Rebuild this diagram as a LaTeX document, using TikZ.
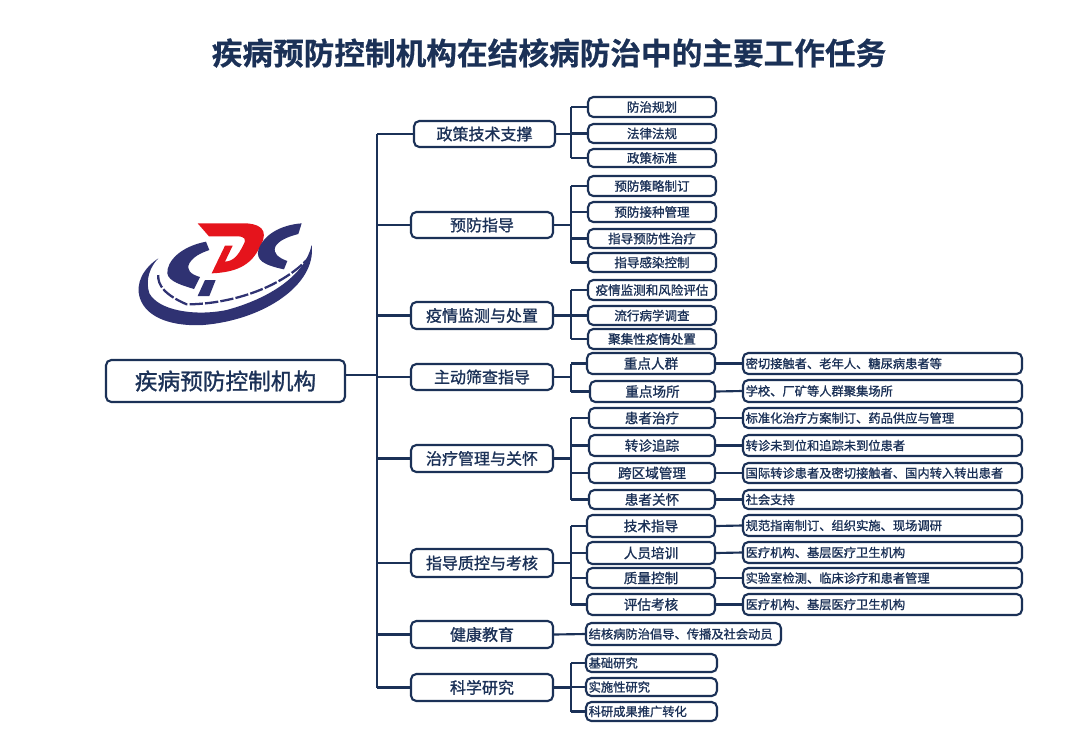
\documentclass[tikz,border=0pt]{standalone}
\usepackage{fontspec}
\setmainfont[RawFeature={embolden=1.2}]{Noto Sans CJK SC}
\newfontfamily\titlefont[RawFeature={embolden=0.6}]{Noto Sans CJK SC Bold}
\definecolor{navy}{HTML}{1B3157}
\definecolor{logob}{HTML}{2F3272}
\definecolor{logor}{HTML}{E5141C}
\tikzset{
  box/.style={draw=navy,line width=1.6pt,rounded corners=4pt,text=navy,inner xsep=2pt,inner ysep=0pt,align=center},
  rootbox/.style={box,font=\fontsize{17pt}{19pt}\selectfont},
  mainbox/.style={box,font=\fontsize{12pt}{14pt}\selectfont},
  subbox/.style={box,font=\fontsize{9.4pt}{11pt}\selectfont},
  midbox/.style={box,font=\fontsize{10.2pt}{12pt}\selectfont},
  detailbox/.style={box,font=\fontsize{9.2pt}{11pt}\selectfont,text width=\bw-4pt,align=left},
  link/.style={draw=navy,line width=1.6pt},
  title/.style={text=navy,font=\titlefont\fontsize{23pt}{26pt}\selectfont}
}
\newcommand{\bx}[7][subbox]{%
  \pgfmathsetlengthmacro{\bw}{(#5-#3)*0.75pt}%
  \pgfmathsetlengthmacro{\bh}{(#6-#4)*0.75pt}%
  \node[#1,minimum width=\bw,minimum height=\bh] (#2) at ({(#3+#5)/2},{(#4+#6)/2}) {#7};}
\begin{document}
\begin{tikzpicture}[x=0.75pt,y=-0.75pt]
\useasboundingbox (0,0) rectangle (1080,747);
\fill[white] (0,0) rectangle (1080,747);
\node[title] (ttl) at (549,53) {疾病预防控制机构在结核病防治中的主要工作任务};
% logo
\begin{scope}[shift={(130,215)},x=0.25pt,y=-0.25pt]
\fill[logob] (85,130) .. controls (40,160) and (15,205) .. (30,250)
  .. controls (50,310) and (130,335) .. (220,330)
  .. controls (400,315) and (560,210) .. (545,90)
  .. controls (525,180) and (420,250) .. (290,285)
  .. controls (190,305) and (85,285) .. (58,235)
  .. controls (45,195) and (60,155) .. (85,130) -- cycle;
\fill[logob] (228,80) .. controls (150,95) and (110,140) .. (112,175)
  .. controls (115,200) and (160,212) .. (192,222) -- (210,186)
  .. controls (182,178) and (168,165) .. (178,145)
  .. controls (190,125) and (210,115) .. (238,105) -- cycle;
\fill[logob] (225,195) -- (257,195) -- (238,243) -- (203,243) -- cycle;
\fill[logor] (203,25) -- (350,25)
  .. controls (410,30) and (412,60) .. (385,105)
  .. controls (360,150) and (320,172) .. (245,175) -- (285,92) -- (308,92) -- (285,140)
  .. controls (312,138) and (325,120) .. (340,90)
  .. controls (350,72) and (345,64) .. (320,64) -- (237,64) -- cycle;
\fill[logob] (515,25) .. controls (450,30) and (400,60) .. (385,105)
  .. controls (378,135) and (400,150) .. (462,163) -- (472,138)
  .. controls (445,128) and (428,115) .. (436,95)
  .. controls (445,78) and (470,66) .. (505,57) -- cycle;
\draw[logob,line width=1.7pt,dash pattern=on 10pt off 1.6pt] (85,180)
  .. controls (82,210) and (105,240) .. (170,268)
  .. controls (290,268) and (450,225) .. (540,125);
\end{scope}
% root
\bx[rootbox]{root}{106}{360}{345}{402}{疾病预防控制机构}
% level 1
\bx[mainbox]{ma}{414}{121}{555}{147}{政策技术支撑}
\bx[mainbox]{mb}{411}{212}{553}{238}{预防指导}
\bx[mainbox]{mc}{411}{302}{553}{329}{疫情监测与处置}
\bx[mainbox]{md}{411}{364}{553}{390}{主动筛查指导}
\bx[mainbox]{me}{411}{445}{553}{472}{治疗管理与关怀}
\bx[mainbox]{mf}{411}{549}{553}{577}{指导质控与考核}
\bx[mainbox]{mg}{411}{621}{553}{648}{健康教育}
\bx[mainbox]{mh}{411}{674}{553}{701}{科学研究}
% level 2
\bx{a1}{588}{97}{716}{117}{防治规划}
\bx{a2}{588}{124}{716}{143}{法律法规}
\bx{a3}{588}{149}{716}{167}{政策标准}
\bx{b1}{588}{176}{716}{196}{预防策略制订}
\bx{b2}{588}{202}{716}{222}{预防接种管理}
\bx{b3}{588}{229}{716}{248}{指导预防性治疗}
\bx{b4}{588}{253}{716}{272}{指导感染控制}
\bx{c1}{588}{280}{716}{300}{疫情监测和风险评估}
\bx{c2}{588}{306}{716}{325}{流行病学调查}
\bx{c3}{588}{329}{716}{349}{聚集性疫情处置}
\bx[midbox]{d1}{587}{353}{715}{374}{重点人群}
\bx[midbox]{d2}{590}{381}{715}{402}{重点场所}
\bx[midbox]{e1}{589}{408}{715}{428}{患者治疗}
\bx[midbox]{e2}{589}{435}{715}{456}{转诊追踪}
\bx[midbox]{e3}{589}{463}{715}{483}{跨区域管理}
\bx[midbox]{e4}{589}{490}{715}{509}{患者关怀}
\bx[midbox]{f1}{587}{515}{715}{537}{技术指导}
\bx[midbox]{f2}{587}{542}{715}{564}{人员培训}
\bx[midbox]{f3}{587}{568}{715}{588}{质量控制}
\bx[midbox]{f4}{587}{594}{715}{615}{评估考核}
\bx[detailbox]{g1}{586}{623}{781}{645}{结核病防治倡导、传播及社会动员}
\bx[detailbox]{h1}{586}{654}{717}{672}{基础研究}
\bx[detailbox]{h2}{586}{678}{717}{696}{实施性研究}
\bx[detailbox]{h3}{586}{702}{717}{721}{科研成果推广转化}
% level 3
\bx[detailbox]{d1x}{743}{353}{1022}{374}{密切接触者、老年人、糖尿病患者等}
\bx[detailbox]{d2x}{743}{380}{1022}{402}{学校、厂矿等人群聚集场所}
\bx[detailbox]{e1x}{743}{408}{1022}{428}{标准化治疗方案制订、药品供应与管理}
\bx[detailbox]{e2x}{743}{435}{1022}{456}{转诊未到位和追踪未到位患者}
\bx[detailbox]{e3x}{743}{463}{1022}{483}{国际转诊患者及密切接触者、国内转入转出患者}
\bx[detailbox]{e4x}{743}{490}{1022}{509}{社会支持}
\bx[detailbox]{f1x}{743}{515}{1022}{536}{规范指南制订、组织实施、现场调研}
\bx[detailbox]{f2x}{743}{542}{1022}{563}{医疗机构、基层医疗卫生机构}
\bx[detailbox]{f3x}{743}{568}{1022}{588}{实验室检测、临床诊疗和患者管理}
\bx[detailbox]{f4x}{743}{594}{1022}{615}{医疗机构、基层医疗卫生机构}
% connectors
\coordinate (tk) at (377,134);
\coordinate (sb) at (571,134);
\draw[link] (ma.west -| tk) -- (mh.west -| tk);
\draw[link] ([yshift=4.5pt]root.east) -- ([yshift=4.5pt]root.east -| tk);
\foreach \m in {ma,mb,mc,md,me,mf,mg,mh}{\draw[link] (\m.west) -- (\m.west -| tk);}
\foreach \p/\first/\last in {ma/a1/a3,mb/b1/b4,mc/c1/c3,md/d1/d2,me/e1/e4,mf/f1/f4,mh/h1/h3}{
  \draw[link] (\first.west -| sb) -- (\last.west -| sb);
  \draw[link] (\p.east) -- (\p.east -| sb);
}
\foreach \c in {a1,a2,a3,b1,b2,b3,b4,c1,c2,c3,d1,d2,e1,e2,e3,e4,f1,f2,f3,f4,h1,h2,h3}{\draw[link] (\c.west) -- (\c.west -| sb);}
\foreach \c in {d1,d2,e1,e2,e3,e4,f1,f2,f3,f4}{\draw[link] (\c.east) -- (\c x.west);}
\draw[link] (mg.east) -- (g1.west);
\end{tikzpicture}
\end{document}
